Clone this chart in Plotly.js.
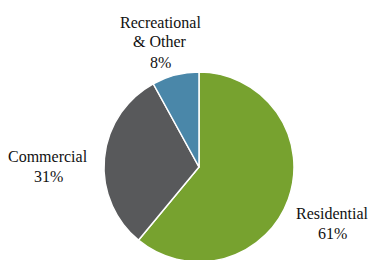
<!DOCTYPE html>
<html>
<head>
<meta charset="utf-8">
<script src="https://cdn.plot.ly/plotly-3.0.1.min.js"></script>
<style>
html,body{margin:0;padding:0;overflow:hidden;background:#fff;}
#chart{width:370px;height:264px;}
</style>
</head>
<body>
<div id="chart"></div>
<script>
const categories = ["Residential", "Commercial", "Recreational\n& Other"];
const values = [61, 31, 8];
const colors = ["#77a22f", "#58595b", "#4a87a9"];

const W = 370, H = 264;
// label block centres in pixels (x, y from top)
const labelPos = [[332, 223], [48, 166], [160, 42]];
const LINE = 20;
const FONT = "Liberation Serif";

const annotations = [];
categories.forEach((c, i) => {
  const lines = c.split("\n").concat([values[i] + "%"]);
  const top = labelPos[i][1] - (lines.length - 1) * LINE / 2;
  lines.forEach((ln, j) => {
    annotations.push({
      text: ln,
      xref: "paper", yref: "paper",
      x: labelPos[i][0] / W, y: 1 - (top + j * LINE) / H,
      xanchor: "center", yanchor: "middle",
      showarrow: false,
      font: {family: FONT, size: 16, color: "#111"}
    });
  });
});

const cx = 199, cy = 167, r = 95;
Plotly.newPlot("chart", [{
  type: "pie",
  labels: categories.map(c => c.replace("\n", " ")),
  values: values,
  sort: false,
  direction: "clockwise",
  rotation: 0,
  textinfo: "none",
  hoverinfo: "none",
  marker: {colors: colors, line: {color: "#ffffff", width: 1.5}},
  domain: {x: [(cx - r) / W, (cx + r) / W], y: [(H - cy - r) / H, (H - cy + r) / H]}
}], {
  width: W, height: H,
  margin: {l: 0, r: 0, t: 0, b: 0},
  showlegend: false,
  font: {family: FONT, size: 16, color: "#111"},
  annotations: annotations
}, {staticPlot: true});
</script>
</body>
</html>
